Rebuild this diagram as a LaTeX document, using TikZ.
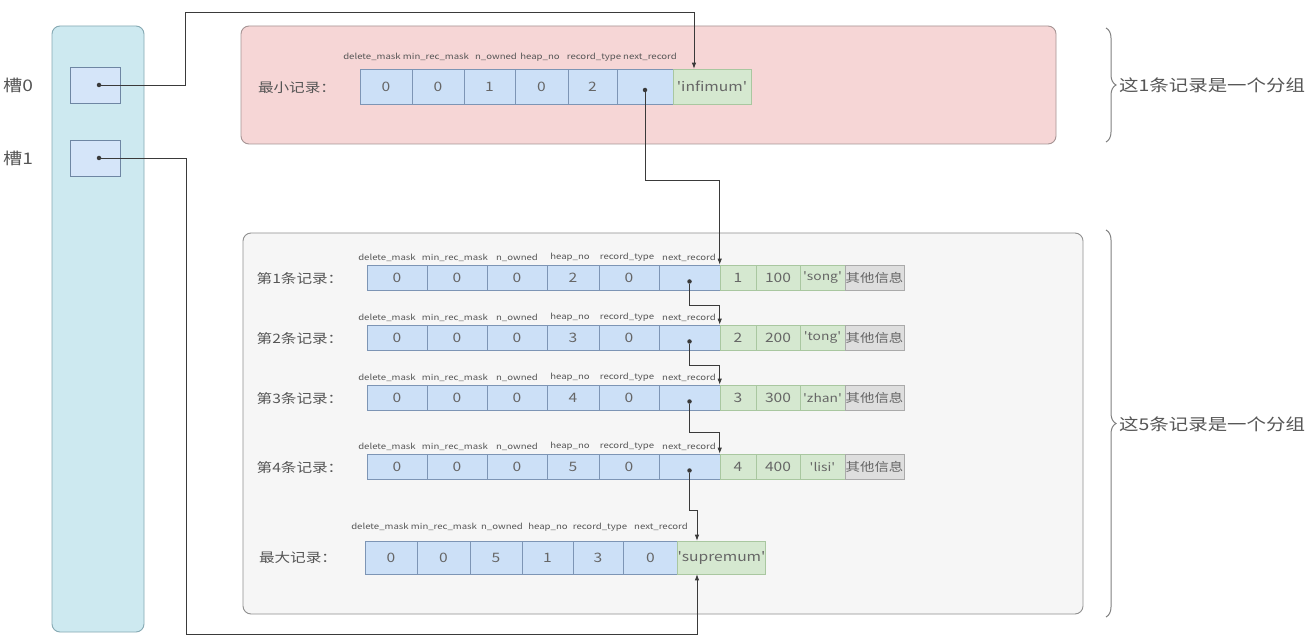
\documentclass[tikz,border=0pt]{standalone}
\usepackage{fontspec}
\setmainfont{Noto Sans CJK SC}
\usepackage{graphicx}
\usetikzlibrary{arrows.meta,decorations.pathreplacing}
\definecolor{pinkfill}{HTML}{F6D6D6}
\definecolor{pinkdraw}{HTML}{A69494}
\definecolor{grayfill}{HTML}{F6F6F6}
\definecolor{graydraw}{HTML}{8F8F8F}
\definecolor{colfill}{HTML}{CDE9F0}
\definecolor{coldraw}{HTML}{86A9B3}
\definecolor{slotfill}{HTML}{D5E5F9}
\definecolor{slotdraw}{HTML}{6E86A3}
\definecolor{bluefill}{HTML}{CCE0F7}
\definecolor{bluedraw}{HTML}{7D95B5}
\definecolor{greenfill}{HTML}{D5E8D0}
\definecolor{greendraw}{HTML}{A9C7A0}
\definecolor{hfill}{HTML}{DEDEDE}
\definecolor{hdraw}{HTML}{AAAAAA}
\definecolor{labgray}{HTML}{555555}
\definecolor{cellgray}{HTML}{666666}
\definecolor{linec}{HTML}{3A3A3A}
\definecolor{bracec}{HTML}{808080}
\newcommand{\sx}[1]{\scalebox{1.2}[1]{#1}}
\newcommand{\q}{\textquotesingle}
\begin{document}
\begin{tikzpicture}[x=1pt,y=-1pt,
  box/.style={draw, rounded corners=8pt, line width=0.9pt, inner sep=0},
  bcell/.style={draw=bluedraw, fill=bluefill, line width=0.6pt, minimum height=25, inner sep=0, font=\fontsize{13}{13}\selectfont, text=cellgray},
  gcell/.style={bcell, draw=greendraw, fill=greenfill},
  ncell/.style={gcell, font=\fontsize{11.5}{12}\selectfont},
  hcell/.style={bcell, draw=hdraw, fill=hfill, font=\fontsize{12}{12}\selectfont},
  fld/.style={font=\fontsize{8}{8}\selectfont, text=labgray, inner sep=0},
  lab/.style={font=\fontsize{13}{13}\selectfont, text=labgray, inner sep=0},
  big/.style={font=\fontsize{16.2}{16}\selectfont, text=labgray, inner sep=0},
  dot/.style={circle, fill=linec, inner sep=0, minimum size=4.5},
  conn/.style={draw=linec, line width=0.8pt, -{Latex[length=6pt,width=4.5pt]}},
  brc/.style={draw=bracec, line width=1pt, decorate, decoration={brace, amplitude=10pt}}]
\fill[white] (0,0) rectangle (1312,644);
\useasboundingbox (0,0) rectangle (1312,644);

% slot column
\node[box, draw=coldraw, fill=colfill, minimum width=92, minimum height=606] (col) at (98,329) {};
\node[draw=slotdraw, fill=slotfill, line width=0.7pt, minimum width=50, minimum height=36, inner sep=0] (s0) at (95,85) {};
\node[draw=slotdraw, fill=slotfill, line width=0.7pt, minimum width=50, minimum height=36, inner sep=0] (s1) at (95,158) {};
\node[dot] (d0) at (99,85) {};
\node[dot] (d1) at (99,158) {};
\node[big, anchor=west, font=\fontsize{16}{16}\selectfont] (l0) at (3,85) {\sx{槽0}};
\node[big, anchor=west, font=\fontsize{16}{16}\selectfont] (l1) at (3,158) {\sx{槽1}};

% group boxes
\node[box, draw=pinkdraw, fill=pinkfill, minimum width=815, minimum height=118] (g1) at (648.5,85) {};
\node[box, draw=graydraw, fill=grayfill, minimum width=840, minimum height=381] (g2) at (663,423.5) {};

% infimum
\node[lab] (il) at (297,88) {\sx{最小记录：}};
\node[bcell, minimum height=35, minimum width=52] (i1) at (386,86.5) {\sx{0}};
\node[bcell, minimum height=35, minimum width=52] (i2) at (438,86.5) {\sx{0}};
\node[bcell, minimum height=35, minimum width=51] (i3) at (489.5,86.5) {\sx{1}};
\node[bcell, minimum height=35, minimum width=53] (i4) at (541.5,86.5) {\sx{0}};
\node[bcell, minimum height=35, minimum width=49] (i5) at (592.5,86.5) {\sx{2}};
\node[bcell, minimum height=35, minimum width=56] (i6) at (645,86.5) {};
\node[gcell, minimum height=35, minimum width=78] (i7) at (712,86.5) {\sx{\q infimum\q}};
\node[dot] (p0) at (645,90) {};
\node[fld] (if1) at (372,57) {\sx{delete\_mask}};
\node[fld] (if2) at (436,57) {\sx{min\_rec\_mask}};
\node[fld] (if3) at (496,57) {\sx{n\_owned}};
\node[fld] (if4) at (540,57) {\sx{heap\_no}};
\node[fld] (if5) at (594,57) {\sx{record\_type}};
\node[fld] (if6) at (650,57) {\sx{next\_record}};

% records 1-4
\foreach \k/\yy/\hp/\vv/\nm in {1/277.5/2/100/song, 2/337.5/3/200/tong, 3/397.5/4/300/zhan, 4/466.5/5/400/lisi}{
  \node[lab] (rl\k) at (300,\yy+1) {\sx{第\k{}条记录：}};
  \node[bcell, minimum width=60] (r\k-1) at (397,\yy) {\sx{0}};
  \node[bcell, minimum width=60] (r\k-2) at (457,\yy) {\sx{0}};
  \node[bcell, minimum width=60] (r\k-3) at (517,\yy) {\sx{0}};
  \node[bcell, minimum width=52] (r\k-4) at (573,\yy) {\sx{\hp}};
  \node[bcell, minimum width=60] (r\k-5) at (629,\yy) {\sx{0}};
  \node[bcell, minimum width=61] (r\k-6) at (689.5,\yy) {};
  \node[gcell, minimum width=36] (r\k-7) at (738,\yy) {\sx{\k}};
  \node[gcell, minimum width=44] (r\k-8) at (778,\yy) {\sx{\vv}};
  \node[ncell, minimum width=45] (r\k-9) at (822.5,\yy) {\sx{\q\nm\q}};
  \node[hcell, minimum width=59] (r\k-10) at (874.5,\yy) {\sx{其他信息}};
  \node[dot] (p\k) at (689.5,\yy+4) {};
  \node[fld] (f\k-1) at (387,\yy-20) {\sx{delete\_mask}};
  \node[fld] (f\k-2) at (455,\yy-20) {\sx{min\_rec\_mask}};
  \node[fld] (f\k-3) at (517,\yy-20) {\sx{n\_owned}};
  \node[fld] (f\k-4) at (570,\yy-20) {\sx{heap\_no}};
  \node[fld] (f\k-5) at (627,\yy-20) {\sx{record\_type}};
  \node[fld] (f\k-6) at (689,\yy-20) {\sx{next\_record}};
}

% supremum
\node[lab] (sl) at (298,558) {\sx{最大记录：}};
\node[bcell, minimum height=33, minimum width=52] (s1c) at (391,557.5) {\sx{0}};
\node[bcell, minimum height=33, minimum width=53] (s2c) at (443.5,557.5) {\sx{0}};
\node[bcell, minimum height=33, minimum width=52] (s3c) at (496,557.5) {\sx{5}};
\node[bcell, minimum height=33, minimum width=51] (s4c) at (547.5,557.5) {\sx{1}};
\node[bcell, minimum height=33, minimum width=50] (s5c) at (598,557.5) {\sx{3}};
\node[bcell, minimum height=33, minimum width=55] (s6c) at (650.5,557.5) {\sx{0}};
\node[gcell, minimum height=33, minimum width=87] (s7) at (721.5,557.5) {\sx{\q supremum\q}};
\node[fld] (sf1) at (380,527) {\sx{delete\_mask}};
\node[fld] (sf2) at (444,527) {\sx{min\_rec\_mask}};
\node[fld] (sf3) at (502,527) {\sx{n\_owned}};
\node[fld] (sf4) at (548,527) {\sx{heap\_no}};
\node[fld] (sf5) at (600,527) {\sx{record\_type}};
\node[fld] (sf6) at (661,527) {\sx{next\_record}};

% connectors
\coordinate (b0) at (185,12);
\draw[conn] (d0) -| (b0) -| ([xshift=-18pt]i7.north);
\coordinate (m0) at (645,180);
\draw[conn] (p0) -- (m0) -| (r1-7.north west);
\coordinate (m1) at (689.5,305);
\draw[conn] (p1) -- (m1) -| (r2-7.north west);
\coordinate (m2) at (689.5,365);
\draw[conn] (p2) -- (m2) -| (r3-7.north west);
\coordinate (m3) at (689.5,432);
\draw[conn] (p3) -- (m3) -| (r4-7.north west);
\coordinate (m4) at (689.5,510);
\draw[conn] (p4) -- (m4) -| ([xshift=-24.5pt]s7.north);
\coordinate (b1) at (186,634);
\draw[conn] (d1) -| (b1) -| ([xshift=-24.5pt]s7.south);

% braces
\coordinate (ba) at (1106,28);
\coordinate (bb) at (1106,142);
\draw[brc] (ba) -- (bb);
\node[big, anchor=west] (t1) at (1119,85) {\sx{这1条记录是一个分组}};
\coordinate (bc) at (1106,230);
\coordinate (bd) at (1106,617);
\draw[brc] (bc) -- (bd);
\node[big, anchor=west] (t2) at (1119,424) {\sx{这5条记录是一个分组}};
\end{tikzpicture}
\end{document}
